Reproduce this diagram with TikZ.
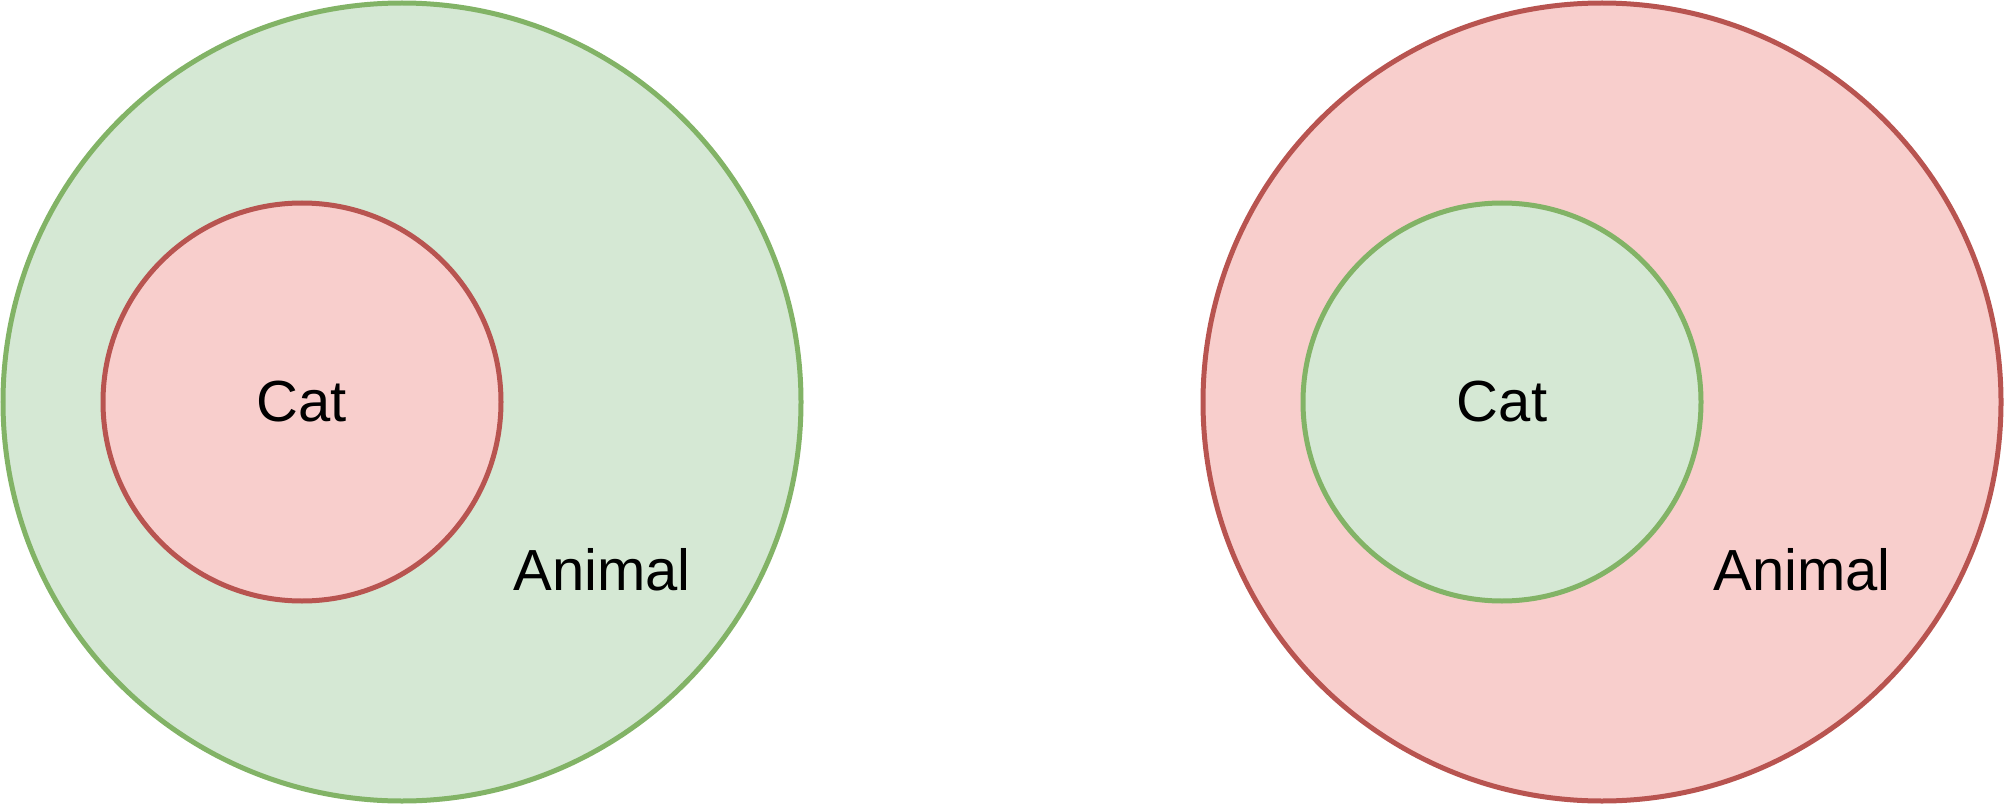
\documentclass[tikz,border=0pt]{standalone}
\usepackage{fontspec}
\setmainfont{Liberation Sans}
\usetikzlibrary{positioning}
\definecolor{setgreen}{HTML}{D5E8D4}
\definecolor{setgreenline}{HTML}{82B366}
\definecolor{setred}{HTML}{F8CECC}
\definecolor{setredline}{HTML}{B85450}
\begin{document}
\begin{tikzpicture}[x=1pt,y=-1pt,
  greenset/.style={circle,fill=setgreen,draw=setgreenline,line width=5pt,inner sep=0pt},
  redset/.style={circle,fill=setred,draw=setredline,line width=5pt,inner sep=0pt},
  bigset/.style={minimum size=798pt},
  smallset/.style={minimum size=398pt},
  lbl/.style={font=\fontsize{58}{70}\selectfont}]
  \useasboundingbox (0,0) rectangle (2005,805);
  % left: green animal holds red cat
  \node [greenset,bigset] (animal1) at (402,402) {};
  \node [redset,smallset,lbl] (cat1) at (302,402) {Cat};
  \node [lbl,anchor=base west] (name1) at (510,590) {Animal};
  % right: colours swapped
  \node [redset,bigset] (animal2) at (1602,402) {};
  \node [greenset,smallset,lbl] (cat2) at (1502,402) {Cat};
  \node [lbl,anchor=base west] (name2) at (1710,590) {Animal};
\end{tikzpicture}
\end{document}
